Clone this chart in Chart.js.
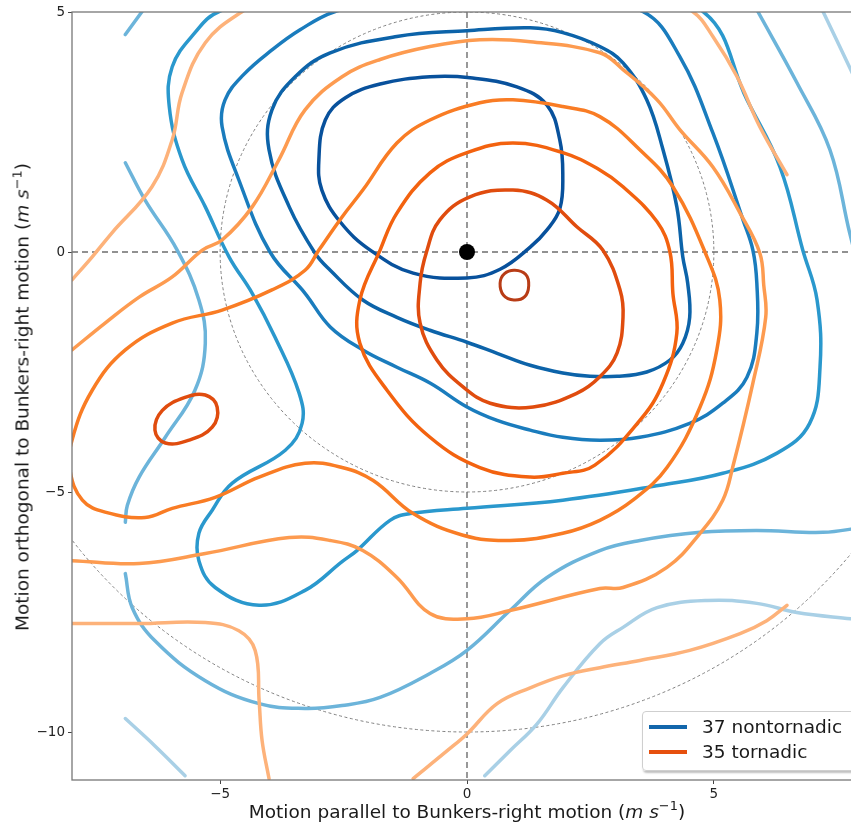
<!DOCTYPE html>
<html>
<head>
<meta charset="utf-8">
<script src="https://cdn.jsdelivr.net/npm/chart.js@4.4.1/dist/chart.umd.min.js"></script>
<style>
  html, body { margin: 0; padding: 0; background: #fff; overflow: hidden; }
  #wrap { position: relative; width: 851px; height: 826px; overflow: hidden; }
  #c { position: absolute; left: 0; top: 0; }
  .lbl { position: absolute; font-family: 'DejaVu Sans', sans-serif; font-size: 18.5px; color: #1a1a1a; white-space: nowrap; }
  #xtitle { left: 467px; top: 811px; transform: translate(-50%, -50%); }
  #ytitle { left: 22px; top: 397px; transform: translate(-50%, -50%) rotate(-90deg); }
  #legend { position: absolute; left: 642px; top: 711px; width: 240px; height: 58px; background: rgba(255,255,255,0.9);
    border: 1px solid #cfcfcf; border-radius: 4px; box-shadow: 1px 2px 2px rgba(0,0,0,0.25);
    font-family: 'DejaVu Sans', sans-serif; font-size: 18.5px; color: #1a1a1a; }
  .item { position: absolute; left: 6px; height: 22px; white-space: nowrap; }
  .item span.sw { position: absolute; left: 0; top: 9px; width: 38px; height: 4px; }
  .item span.tx { position: absolute; left: 53px; top: 0; line-height: 22px; white-space: nowrap; }
  sup { font-size: 0.7em; vertical-align: 0.55em; line-height: 0; }
</style>
</head>
<body>
<div id="wrap">
  <canvas id="c" width="880" height="826"></canvas>
  <div class="lbl" id="xtitle">Motion parallel to Bunkers-right motion (<i>m s</i><sup>−1</sup>)</div>
  <div class="lbl" id="ytitle">Motion orthogonal to Bunkers-right motion (<i>m s</i><sup>−1</sup>)</div>
  <div id="legend"></div>
</div>
<script>
// axis ticks and reference rings
const xTicks = [-5, 0, 5];
const yTicks = [-10, -5, 0, 5];
const ringRadii = [5, 10];
const stormMotion = [[0, 0]];
const legendLabels = ['37 nontornadic', '35 tornadic'];

// nontornadic contours, innermost first (x, y in m/s)
const nonTor1 = [[-3.0,1.92],[-2.87,2.75],[-2.47,3.21],[-1.76,3.5],[-0.75,3.65],[0.06,3.63],[1.01,3.44],[1.62,3.06],[1.88,2.33],[1.94,1.6],[1.88,0.9],[1.62,0.46],[1.28,0.1],[0.67,-0.36],[0,-0.54],[-1.09,-0.44],[-1.96,0.04],[-2.57,0.63],[-2.94,1.29]];
const nonTor2 = [[-4.01,2.13],[-3.95,2.96],[-3.48,3.65],[-2.77,4.15],[-1.42,4.49],[0,4.61],[1.28,4.67],[1.94,4.57],[2.69,4.28],[3.16,3.94],[3.64,3.17],[3.97,2.13],[4.25,0.94],[4.37,-0.1],[4.47,-0.65],[4.51,-1.36],[4.37,-1.9],[4.11,-2.25],[3.64,-2.5],[3.04,-2.59],[2.49,-2.59],[1.94,-2.52],[1.28,-2.36],[0.61,-2.11],[0,-1.88],[-0.75,-1.63],[-1.42,-1.36],[-2.11,-1.0],[-2.77,-0.38],[-3.08,-0.02],[-3.6,0.94]];
const nonTor3 = [[-1.36,5.3],[-2.67,5.01],[-3.38,4.63],[-3.95,4.21],[-4.53,3.69],[-4.9,3.17],[-4.96,2.61],[-4.62,1.5],[-3.99,0],[-3.28,-0.86],[-2.77,-1.56],[-2.11,-2.04],[-1.42,-2.4],[-0.75,-2.73],[0,-3.23],[0.61,-3.51],[1.28,-3.71],[1.94,-3.86],[2.69,-3.92],[3.5,-3.86],[4.51,-3.57],[5.18,-3.15],[5.67,-2.61],[5.87,-1.69],[5.87,-0.65],[5.79,0.04],[5.59,0.67],[4.98,2.48],[4.31,4.07],[3.56,5.01],[1.88,5.36],[0,5.42]];
const nonTor4 = [[0,5.68],[-3.38,5.47],[-5.02,5.01],[-5.51,4.57],[-5.97,3.86],[-6.03,3.03],[-5.77,1.92],[-5.3,0.94],[-4.82,-0.1],[-4.35,-0.86],[-3.89,-1.77],[-3.4,-2.94],[-3.34,-3.57],[-3.68,-4.13],[-4.76,-4.82],[-5.16,-5.38],[-5.43,-5.86],[-5.43,-6.43],[-5.1,-6.99],[-4.21,-7.36],[-3.28,-7.05],[-2.53,-6.45],[-2.23,-6.22],[-1.56,-5.59],[-1.15,-5.45],[0,-5.34],[1.94,-5.17],[3.91,-4.86],[5.18,-4.61],[6.28,-4.19],[6.94,-3.57],[7.15,-2.4],[7.09,-1.0],[6.8,0.04],[6.34,1.77],[5.67,3.17],[4.78,5.01],[2.69,5.57]];
const nonTor5a = [[-6.92,4.53],[-6.58,5.01]];
const nonTor5b = [[-6.92,1.86],[-6.52,1.08],[-5.87,0.04],[-5.43,-1.0],[-5.3,-1.9],[-5.51,-2.88],[-6.11,-3.86],[-6.64,-4.69],[-6.88,-5.28],[-6.92,-5.63]];
const nonTor5c = [[-6.92,-6.7],[-6.78,-7.41],[-6.32,-8.1],[-5.3,-8.93],[-4.21,-9.41],[-3.28,-9.51],[-2.53,-9.45],[-1.76,-9.28],[-0.75,-8.78],[0,-8.3],[0.87,-7.47],[1.62,-6.78],[2.69,-6.22],[3.5,-6.01],[4.72,-5.84],[5.87,-5.8],[7.21,-5.84],[8.0,-5.74]];
const nonTor5d = [[5.89,5.01],[6.68,3.53],[7.35,2.13],[7.75,0.4],[8.0,-0.58]];
const nonTor6a = [[7.21,5.01],[7.77,3.8],[8.0,3.28]];
const nonTor6b = [[-6.92,-9.72],[-6.32,-10.29],[-5.71,-10.91]];
const nonTor6c = [[0.36,-10.91],[0.87,-10.39],[1.42,-9.83],[1.94,-9.08],[2.69,-8.16],[3.16,-7.82],[3.85,-7.41],[4.86,-7.26],[5.87,-7.32],[6.68,-7.51],[7.77,-7.64],[8.0,-7.66]];

// tornadic contours, innermost first
const tor1 = [[0.97,-0.38],[1.19,-0.47],[1.25,-0.7],[1.17,-0.93],[0.95,-1.0],[0.74,-0.9],[0.67,-0.65],[0.76,-0.45]];
const tor2 = [[-0.95,-0.65],[-0.82,0.0],[-0.55,0.67],[0.06,1.15],[0.93,1.29],[1.62,1.08],[2.23,0.52],[2.75,0.04],[3.1,-0.79],[3.16,-1.35],[3.04,-2.1],[2.69,-2.6],[2.23,-2.94],[1.34,-3.23],[0.47,-3.15],[-0.08,-2.81],[-0.61,-2.25],[-0.95,-1.48]];
const tor2b = [[-6.32,-3.71],[-6.17,-3.3],[-5.71,-3.03],[-5.3,-2.98],[-5.06,-3.23],[-5.16,-3.65],[-5.63,-3.92],[-6.11,-3.98]];
const tor3 = [[-2.17,-1.0],[-1.76,0.04],[-1.42,0.81],[-0.75,1.65],[0,2.07],[0.93,2.27],[1.94,2.07],[2.69,1.71],[3.16,1.36],[3.85,0.63],[4.11,0],[4.17,-0.86],[4.25,-1.69],[3.97,-2.73],[3.5,-3.51],[2.59,-4.44],[1.94,-4.61],[1.28,-4.69],[0.26,-4.49],[-0.75,-3.86],[-1.62,-2.88],[-2.17,-1.9]];
const tor4 = [[-8.04,-4.55],[-8.0,-3.92],[-7.59,-2.88],[-6.92,-2.04],[-5.97,-1.48],[-4.96,-1.21],[-3.95,-0.79],[-3.28,-0.38],[-3.0,0.04],[-2.53,0.73],[-2.11,1.29],[-1.42,2.27],[-0.75,2.75],[0.26,3.11],[0.93,3.17],[1.94,3.03],[2.69,2.82],[3.5,2.13],[4.17,1.36],[4.86,-0.1],[5.12,-1.0],[5.06,-2.04],[4.72,-3.23],[4.05,-4.49],[3.36,-5.17],[2.69,-5.59],[1.94,-5.86],[0.87,-6.01],[-0.08,-5.9],[-1.09,-5.45],[-1.9,-4.76],[-2.53,-4.49],[-3.28,-4.4],[-4.21,-4.69],[-5.1,-5.11],[-5.97,-5.34],[-6.52,-5.53],[-7.33,-5.42],[-7.79,-5.17]];
const tor5 = [[-8.0,-6.43],[-6.64,-6.49],[-5.3,-6.28],[-3.6,-5.95],[-2.77,-6.01],[-2.11,-6.22],[-1.42,-6.78],[-0.75,-7.53],[0,-7.64],[0.87,-7.47],[2.69,-7.01],[3.16,-6.99],[4.05,-6.57],[4.72,-5.86],[5.18,-5.17],[5.38,-4.49],[5.79,-2.73],[6.05,-1.36],[6.01,-0.69],[5.93,-0.02],[5.53,0.81],[4.98,1.77],[4.31,2.55],[3.85,3.17],[3.16,3.8],[2.69,4.15],[1.28,4.38],[0.26,4.42],[-0.75,4.28],[-1.76,4.01],[-2.53,3.65],[-3.28,2.96],[-3.81,1.92],[-4.35,0.94],[-4.96,0.25],[-5.36,0.04],[-5.97,-0.52],[-6.64,-0.94],[-7.33,-1.48],[-8.0,-2.04]];
const tor6a = [[-8.0,-0.58],[-7.59,-0.1],[-7.19,0.4],[-6.38,1.36],[-5.97,2.34],[-5.77,3.32],[-5.3,4.36],[-4.55,5.01],[-3.38,5.68],[0,6.0],[3.5,5.57],[4.57,5.01],[4.98,4.49],[5.47,3.65],[5.93,2.61],[6.48,1.61]];
const tor6b = [[-8.0,-7.74],[-6.64,-7.74],[-5.3,-7.72],[-4.62,-7.89],[-4.29,-8.3],[-4.21,-9.35],[-4.15,-10.18],[-4.01,-10.97]];
const tor6c = [[-1.09,-10.97],[-0.4,-10.39],[0,-10.04],[0.61,-9.41],[1.28,-9.08],[1.94,-8.83],[2.69,-8.66],[3.5,-8.51],[4.51,-8.3],[5.53,-7.95],[6.07,-7.68],[6.48,-7.36]];

const blues = ['#08519c', '#0c63a9', '#1a7cbd', '#2a98cd', '#6cb4da', '#a9d0e6'];
const oranges = ['#b83c16', '#e04c0e', '#f3620f', '#f97c24', '#fd9b50', '#fdb27a'];
const legendColors = ['#1266ab', '#e6500e'];

const contour = (pts, color, closed, width = 3.5) => ({
  data: pts.map((p) => ({ x: p[0], y: p[1] })),
  closedLoop: closed,
  showLine: true,
  borderColor: color,
  borderWidth: width,
  pointRadius: 0,
  tension: 0.4,
  fill: false,
  clip: 0,
});

const blueSets = [
  contour(nonTor1, blues[0], true),
  contour(nonTor2, blues[1], true),
  contour(nonTor3, blues[2], true),
  contour(nonTor4, blues[3], true),
  contour(nonTor5a, blues[4], false),
  contour(nonTor5b, blues[4], false),
  contour(nonTor5c, blues[4], false),
  contour(nonTor5d, blues[4], false),
  contour(nonTor6a, blues[5], false),
  contour(nonTor6b, blues[5], false),
  contour(nonTor6c, blues[5], false),
].map((d) => ({ ...d, order: 2 }));

const orangeSets = [
  contour(tor1, oranges[0], true, 3),
  contour(tor2, oranges[1], true),
  contour(tor2b, oranges[1], true),
  contour(tor3, oranges[2], true),
  contour(tor4, oranges[3], true),
  contour(tor5, oranges[4], false),
  contour(tor6a, oranges[5], false),
  contour(tor6b, oranges[5], false),
  contour(tor6c, oranges[5], false),
].map((d) => ({ ...d, order: 1 }));

const dotSet = {
  data: stormMotion.map((p) => ({ x: p[0], y: p[1] })),
  pointRadius: 8,
  pointBackgroundColor: '#000',
  pointBorderWidth: 0,
  showLine: false,
  order: 0,
};

// let the line element close a contour smoothly, like a radar line
const closeLoops = {
  id: 'closeLoops',
  afterDatasetsUpdate(chart) {
    chart.data.datasets.forEach((ds, i) => {
      if (!ds.closedLoop) return;
      const line = chart.getDatasetMeta(i).dataset;
      if (!line) return;
      line._loop = true;
      line._fullLoop = true;
      line._pointsUpdated = false;
      line._segments = undefined;
      line._path = undefined;
    });
  },
};

const guides = {
  id: 'guides',
  beforeDatasetsDraw(chart) {
    const { ctx, chartArea: a, scales } = chart;
    const x0 = scales.x.getPixelForValue(0);
    const y0 = scales.y.getPixelForValue(0);
    ctx.save();
    ctx.beginPath();
    ctx.rect(a.left, a.top, a.right - a.left, a.bottom - a.top);
    ctx.clip();
    ctx.strokeStyle = '#808080';
    ctx.lineWidth = 1;
    ctx.setLineDash([3, 2.5]);
    ringRadii.forEach((r) => {
      const rx = scales.x.getPixelForValue(r) - x0;
      const ry = y0 - scales.y.getPixelForValue(r);
      ctx.beginPath();
      ctx.ellipse(x0, y0, rx, ry, 0, 0, Math.PI * 2);
      ctx.stroke();
    });
    ctx.strokeStyle = '#6e6e6e';
    ctx.lineWidth = 1.4;
    ctx.setLineDash([6, 4]);
    ctx.beginPath();
    ctx.moveTo(x0, a.top);
    ctx.lineTo(x0, a.bottom);
    ctx.moveTo(a.left, y0);
    ctx.lineTo(a.right, y0);
    ctx.stroke();
    ctx.restore();
  },
  afterDraw(chart) {
    const { ctx, chartArea: a } = chart;
    ctx.save();
    ctx.strokeStyle = '#777';
    ctx.lineWidth = 1.3;
    ctx.strokeRect(a.left, a.top, a.right - a.left, a.bottom - a.top);
    ctx.restore();
  },
};

const tickFont = { family: 'DejaVu Sans', size: 13.5 };
const minus = (v) => String(v).replace('-', '\u2212');

new Chart(document.getElementById('c'), {
  type: 'scatter',
  data: { datasets: [dotSet, ...orangeSets, ...blueSets] },
  options: {
    responsive: false,
    animation: false,
    events: [],
    layout: { padding: { left: 0, top: 12, right: 18, bottom: 0 } },
    elements: { line: { capBezierPoints: false, borderCapStyle: 'round' } },
    plugins: { legend: { display: false }, tooltip: { enabled: false } },
    scales: {
      x: {
        type: 'linear',
        min: -8,
        max: 8,
        afterFit: (s) => { s.height = 46; },
        afterBuildTicks: (s) => { s.ticks = xTicks.map((v) => ({ value: v })); },
        ticks: { font: tickFont, color: '#222', padding: 2, maxRotation: 0, callback: minus },
        grid: { drawOnChartArea: false, drawTicks: true, tickLength: 4, tickColor: '#444' },
        border: { display: false },
      },
      y: {
        type: 'linear',
        min: -11,
        max: 5,
        afterFit: (s) => { s.width = 72; },
        afterBuildTicks: (s) => { s.ticks = yTicks.map((v) => ({ value: v })); },
        ticks: { font: tickFont, color: '#222', padding: 3, callback: minus },
        grid: { drawOnChartArea: false, drawTicks: true, tickLength: 4, tickColor: '#444' },
        border: { display: false },
      },
    },
  },
  plugins: [closeLoops, guides],
});

// legend
const legendElement = document.getElementById('legend');
legendLabels.forEach((label, i) => {
  const item = document.createElement('div');
  item.classList.add('item');
  item.style.top = (4 + i * 25) + 'px';
  item.innerHTML = `<span class="sw" style="background:${legendColors[i]}"></span><span class="tx">${label}</span>`;
  legendElement.appendChild(item);
});
</script>
</body>
</html>
